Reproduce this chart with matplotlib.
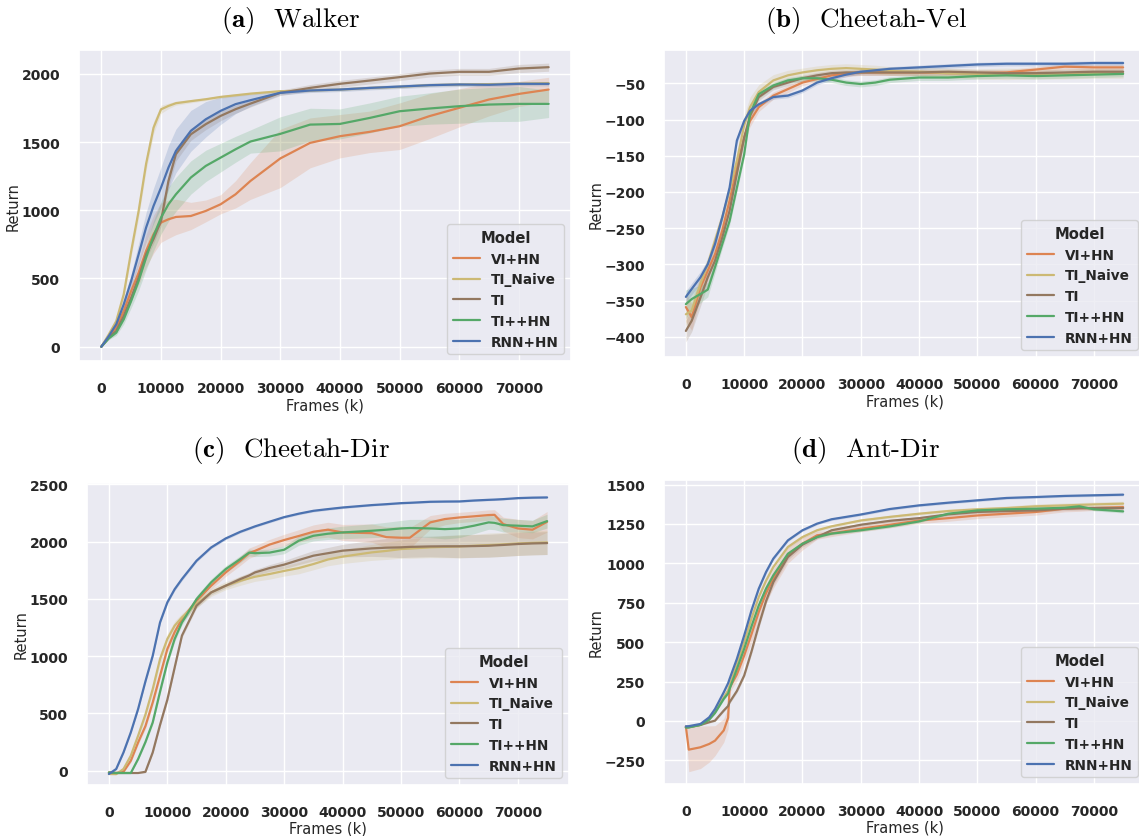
import numpy as np
import matplotlib
matplotlib.use("Agg")
import matplotlib.pyplot as plt
import seaborn as sns

sns.set_theme(style="darkgrid")
plt.rcParams["font.family"] = ["DejaVu Sans"]
plt.rcParams["mathtext.fontset"] = "cm"

models = ["VI+HN", "TI_Naive", "TI", "TI++HN", "RNN+HN"]
pal = sns.color_palette("deep")
colors = [pal[1], pal[8], pal[5], pal[2], pal[0]]

# ---------------- (a) Walker ----------------
walker_x = [0, 1250, 2500, 3750, 5000, 6250, 7500, 8750, 10000, 11250, 12500, 15000, 17500,
            20000, 22500, 25000, 30000, 35000, 40000, 45000, 50000, 55000, 60000, 65000, 70000, 75000]
walker_vi = [0, 71, 139, 262, 408, 543, 702, 824, 910, 934, 951, 958, 995,
             1044, 1117, 1215, 1380, 1494, 1543, 1575, 1616, 1690, 1751, 1812, 1853, 1885]
walker_naive = [0, 90, 188, 384, 700, 995, 1340, 1606, 1740, 1765, 1785, 1800, 1814,
                1831, 1843, 1855, 1873, 1878, 1885, 1897, 1905, 1918, 1922, 1925, 1928, 1932]
walker_ti = [0, 66, 115, 225, 359, 506, 677, 790, 922, 1215, 1411, 1557, 1631,
             1692, 1741, 1782, 1861, 1897, 1927, 1951, 1976, 2002, 2015, 2015, 2039, 2049]
walker_tipp = [0, 61, 103, 200, 335, 482, 653, 812, 946, 1044, 1117, 1240, 1325,
               1386, 1447, 1504, 1560, 1628, 1633, 1677, 1726, 1746, 1763, 1775, 1780, 1780]
walker_rnn = [0, 78, 164, 310, 482, 677, 873, 1032, 1166, 1313, 1435, 1582, 1667,
              1729, 1778, 1807, 1861, 1878, 1885, 1897, 1907, 1917, 1922, 1920, 1927, 1927]
walker_vi_sd = [0, 10, 20, 40, 60, 90, 120, 140, 145, 140, 130, 100, 80,
                70, 100, 135, 214, 183, 159, 152, 171, 165, 140, 120, 92, 90]
walker_naive_sd = [0, 10, 20, 30, 40, 50, 50, 45, 30, 20, 15, 12, 10,
                   10, 10, 10, 10, 10, 10, 10, 10, 10, 10, 10, 10, 10]
walker_ti_sd = [0, 10, 15, 20, 25, 30, 35, 35, 40, 50, 50, 45, 40,
                35, 30, 25, 20, 25, 25, 25, 25, 25, 25, 25, 30, 30]
walker_tipp_sd = [0, 10, 20, 35, 50, 70, 90, 110, 120, 125, 125, 122, 115,
                  105, 95, 85, 125, 120, 110, 110, 110, 115, 125, 125, 128, 100]
walker_rnn_sd = [0, 10, 20, 35, 55, 80, 110, 130, 150, 160, 160, 150, 130,
                 100, 70, 45, 15, 15, 15, 15, 15, 15, 15, 15, 15, 15]

# ---------------- (b) Cheetah-Vel ----------------
vel_x = [0, 1000, 2500, 3750, 5000, 6250, 7500, 8750, 10000, 11000, 12500, 15000, 17500, 20000,
         22500, 25000, 27500, 30000, 32500, 35000, 40000, 45000, 50000, 55000, 60000, 65000, 70000, 75000]
vel_vi = [-359, -373, -332, -309, -286, -253, -212, -166, -125, -102, -83, -67, -58, -49,
          -44, -39, -37, -35, -35, -35, -35, -36, -36, -35, -31, -27, -28, -28]
vel_naive = [-369, -364, -327, -300, -267, -235, -198, -157, -108, -83, -62, -46, -39, -35,
             -32, -30, -29, -30, -31, -33, -34, -36, -37, -37, -37, -37, -36, -36]
vel_ti = [-392, -378, -346, -318, -295, -263, -226, -175, -125, -95, -69, -55, -49, -43,
          -39, -36, -35, -35, -35, -35, -35, -34, -35, -36, -36, -35, -34, -34]
vel_tipp = [-355, -348, -341, -335, -304, -272, -240, -194, -148, -92, -65, -53, -46, -43,
            -43, -45, -49, -51, -49, -45, -42, -42, -40, -39, -40, -39, -38, -37]
vel_rnn = [-345, -334, -318, -300, -272, -235, -194, -129, -102, -88, -79, -69, -67, -60,
           -49, -43, -38, -34, -32, -30, -28, -26, -24, -23, -23, -23, -22, -22]
vel_vi_sd = [20, 18, 15, 12, 10, 10, 10, 10, 8, 8, 6, 5, 5, 4,
             4, 4, 4, 4, 4, 4, 4, 4, 4, 4, 4, 4, 4, 4]
vel_naive_sd = [15, 15, 12, 10, 10, 10, 10, 12, 14, 14, 10, 8, 7, 6,
                6, 6, 6, 6, 6, 6, 6, 7, 7, 8, 7, 7, 7, 7]
vel_ti_sd = [15, 15, 12, 10, 8, 8, 8, 8, 8, 6, 5, 4, 4, 4,
             4, 4, 4, 4, 4, 4, 4, 4, 4, 4, 4, 4, 4, 4]
vel_tipp_sd = [20, 15, 12, 10, 8, 6, 6, 6, 6, 6, 5, 4, 4, 4,
               4, 4, 4, 4, 4, 4, 4, 4, 4, 4, 4, 4, 4, 4]
vel_rnn_sd = [8, 8, 8, 6, 5, 5, 5, 5, 4, 4, 3, 3, 3, 3,
              3, 3, 3, 3, 3, 3, 3, 3, 3, 3, 3, 3, 3, 3]

# ---------------- (c) Cheetah-Dir ----------------
dir_x = [0, 1250, 2500, 3750, 5000, 6250, 7500, 8750, 10000, 11250, 12500, 15000, 17500, 20000,
         22500, 24000, 25000, 27500, 30000, 32500, 35000, 37500, 40000, 45000, 47500, 50000, 51500,
         55000, 57500, 60000, 62500, 65000, 66000, 67500, 70000, 72500, 75000]
dir_vi = [-15, -20, -9, 87, 247, 390, 597, 830, 1063, 1210, 1325, 1485, 1616, 1732,
          1834, 1900, 1920, 1975, 2015, 2050, 2087, 2105, 2081, 2075, 2040, 2035, 2035,
          2169, 2198, 2212, 2222, 2233, 2235, 2154, 2116, 2105, 2174]
dir_naive = [-29, -30, 15, 131, 306, 490, 713, 975, 1150, 1266, 1339, 1456, 1557, 1616,
             1659, 1680, 1694, 1718, 1745, 1770, 1805, 1845, 1870, 1907, 1920, 1936, 1940,
             1951, 1955, 1959, 1965, 1971, 1973, 1977, 1985, 1990, 1994]
dir_ti = [-20, -20, -20, -20, -20, -10, 160, 400, 620, 900, 1180, 1441, 1557, 1616,
          1674, 1705, 1732, 1770, 1800, 1840, 1878, 1900, 1922, 1942, 1948, 1951, 1955,
          1959, 1960, 1960, 1962, 1965, 1968, 1972, 1980, 1985, 1988]
dir_tipp = [-15, -20, -20, -20, 102, 250, 422, 690, 946, 1150, 1295, 1499, 1645, 1761,
            1849, 1905, 1900, 1905, 1930, 2009, 2052, 2070, 2081, 2096, 2105, 2116, 2120,
            2116, 2110, 2116, 2140, 2169, 2165, 2145, 2140, 2134, 2180]
dir_rnn = [-29, 15, 160, 335, 539, 780, 1004, 1295, 1470, 1585, 1674, 1834, 1950, 2029,
           2087, 2115, 2134, 2175, 2215, 2245, 2270, 2285, 2299, 2320, 2328, 2337, 2340,
           2349, 2351, 2352, 2360, 2366, 2368, 2372, 2381, 2385, 2387]
dir_vi_sd = [5, 5, 8, 15, 20, 25, 30, 30, 30, 30, 30, 30, 30, 35,
             40, 45, 45, 45, 50, 55, 60, 65, 70, 80, 90, 100, 90,
             60, 50, 45, 45, 45, 45, 60, 80, 80, 90]
dir_naive_sd = [5, 5, 8, 15, 25, 35, 40, 45, 45, 40, 35, 35, 35, 35,
                40, 40, 40, 45, 45, 50, 50, 55, 60, 70, 75, 80, 85,
                90, 95, 100, 100, 105, 105, 105, 105, 105, 105]
dir_ti_sd = [5, 5, 5, 5, 5, 8, 15, 20, 20, 20, 20, 20, 20, 20,
             25, 25, 25, 30, 35, 40, 45, 50, 55, 70, 80, 90, 90,
             90, 95, 100, 100, 100, 100, 100, 100, 100, 100]
dir_tipp_sd = [5, 5, 5, 5, 10, 15, 20, 25, 25, 25, 25, 30, 30, 30,
               30, 30, 30, 30, 35, 40, 45, 50, 55, 60, 65, 70, 75,
               80, 85, 80, 70, 60, 60, 60, 55, 55, 60]
dir_rnn_sd = [5, 8, 10, 12, 15, 15, 15, 15, 15, 15, 15, 12, 12, 12,
              10, 10, 10, 10, 10, 10, 10, 10, 10, 8, 8, 8, 8,
              8, 8, 8, 8, 8, 8, 8, 8, 8, 8]

# ---------------- (d) Ant-Dir ----------------
ant_x = [0, 500, 2500, 4000, 5000, 6500, 7250, 7500, 8750, 10000, 11250, 12500, 13750, 15000,
         17500, 20000, 22500, 25000, 30000, 35000, 40000, 45000, 50000, 55000, 60000, 65000,
         67500, 70000, 75000]
ant_vi = [-35, -182, -167, -146, -125, -60, 20, 210, 295, 415, 550, 691, 810, 903,
          1051, 1125, 1178, 1190, 1220, 1245, 1272, 1287, 1304, 1315, 1326, 1347,
          1350, 1351, 1357]
ant_naive = [-40, -39, -25, 13, 55, 150, 195, 225, 360, 500, 650, 786, 890, 977,
             1104, 1167, 1210, 1235, 1272, 1295, 1315, 1332, 1343, 1351, 1362, 1368,
             1371, 1374, 1379]
ant_ti = [-40, -39, -25, -8, 2, 66, 95, 119, 190, 288, 440, 606, 760, 881,
          1040, 1119, 1167, 1210, 1245, 1270, 1287, 1311, 1326, 1332, 1336, 1347,
          1350, 1351, 1351]
ant_tipp = [-42, -41, -25, 8, 51, 140, 175, 203, 330, 458, 600, 733, 840, 924,
            1061, 1125, 1167, 1189, 1210, 1235, 1266, 1315, 1336, 1343, 1347, 1353,
            1362, 1343, 1330]
ant_rnn = [-34, -33, -19, 23, 76, 182, 240, 267, 394, 542, 701, 839, 945, 1030,
           1146, 1210, 1252, 1280, 1310, 1345, 1368, 1385, 1400, 1415, 1421, 1428,
           1430, 1432, 1436]
ant_vi_sd = [5, 140, 135, 115, 95, 75, 70, 30, 40, 50, 55, 60, 60, 60,
             50, 40, 25, 20, 20, 20, 20, 20, 20, 20, 20, 20, 20, 15, 15]
ant_naive_sd = [4, 4, 4, 5, 6, 8, 8, 10, 12, 12, 12, 12, 12, 12,
                10, 10, 10, 10, 10, 10, 10, 12, 12, 12, 15, 15, 15, 15, 15]
ant_ti_sd = [4, 4, 4, 5, 6, 8, 8, 10, 12, 15, 18, 20, 20, 20,
             18, 15, 12, 10, 10, 10, 10, 10, 10, 12, 12, 12, 12, 12, 12]
ant_tipp_sd = [4, 4, 4, 5, 6, 8, 8, 8, 10, 10, 10, 10, 10, 10,
               8, 8, 8, 8, 8, 8, 8, 8, 8, 8, 10, 10, 10, 10, 10]
ant_rnn_sd = [3, 3, 3, 3, 5, 8, 8, 8, 10, 10, 10, 10, 10, 10,
              8, 8, 8, 8, 8, 8, 8, 8, 8, 8, 8, 8, 8, 8, 8]

panels = [
    dict(title=r"$\mathbf{(a)}$  Walker", x=walker_x,
         ys=[walker_vi, walker_naive, walker_ti, walker_tipp, walker_rnn],
         sds=[walker_vi_sd, walker_naive_sd, walker_ti_sd, walker_tipp_sd, walker_rnn_sd],
         pos=[79, 51, 571, 362], ylim=(-105, 2175), yticks=np.arange(0, 2001, 500),
         tpos=(291, 20), xpad=1.5),
    dict(title=r"$\mathbf{(b)}$  Cheetah-Vel", x=vel_x,
         ys=[vel_vi, vel_naive, vel_ti, vel_tipp, vel_rnn],
         sds=[vel_vi_sd, vel_naive_sd, vel_ti_sd, vel_tipp_sd, vel_rnn_sd],
         pos=[664, 51, 1145, 358], ylim=(-428, -4), yticks=np.arange(-400, -49, 50),
         tpos=(866, 20), xpad=1.5),
    dict(title=r"$\mathbf{(c)}$  Cheetah-Dir", x=dir_x,
         ys=[dir_vi, dir_naive, dir_ti, dir_tipp, dir_rnn],
         sds=[dir_vi_sd, dir_naive_sd, dir_ti_sd, dir_tipp_sd, dir_rnn_sd],
         pos=[87, 484, 569, 786], ylim=(-125, 2513), yticks=np.arange(0, 2501, 500),
         tpos=(291, 451), xpad=1),
    dict(title=r"$\mathbf{(d)}$  Ant-Dir", x=ant_x,
         ys=[ant_vi, ant_naive, ant_ti, ant_tipp, ant_rnn],
         sds=[ant_vi_sd, ant_naive_sd, ant_ti_sd, ant_tipp_sd, ant_rnn_sd],
         pos=[664, 481, 1145, 785], ylim=(-400, 1529), yticks=np.arange(-250, 1501, 250),
         tpos=(866, 451), xpad=1),
]

W, H = 1139, 837
fig = plt.figure(figsize=(W / 100, H / 100), dpi=100)

for p in panels:
    l, t, r, b = p["pos"]
    ax = fig.add_axes([l / W, 1 - b / H, (r - l) / W, (b - t) / H])
    x = np.array(p["x"])
    for name, c, y, sd in zip(models, colors, p["ys"], p["sds"]):
        y = np.array(y, dtype=float)
        sd = np.array(sd, dtype=float)
        ax.fill_between(x, y - sd, y + sd, color=c, alpha=0.2, linewidth=0)
        ax.plot(x, y, color=c, lw=1.6, label=name)
    ax.set_xlim(-3750, 78750)
    ax.set_ylim(*p["ylim"])
    ax.set_xticks(np.arange(0, 70001, 10000))
    ax.set_yticks(p["yticks"])
    ax.tick_params(axis="x", labelsize=10, pad=8.5)
    ax.tick_params(axis="y", labelsize=10, pad=7.5)
    for lab in ax.get_xticklabels() + ax.get_yticklabels():
        lab.set_fontweight("bold")
    ax.set_xlabel("Frames (k)", fontsize=10.5, labelpad=p["xpad"])
    ax.set_ylabel("Return", fontsize=10.5, labelpad=0.5)
    leg = ax.legend(title="Model", loc="lower right", fontsize=9.8,
                    title_fontproperties={"weight": "bold", "size": 10.6})
    for txt in leg.get_texts():
        txt.set_fontweight("bold")
    tx, ty = p["tpos"]
    fig.text(tx / W, 1 - ty / H, p["title"], family="cmr10", fontsize=19.5,
             ha="center", va="center", color="black")

fig.savefig("out.png", dpi=100)
